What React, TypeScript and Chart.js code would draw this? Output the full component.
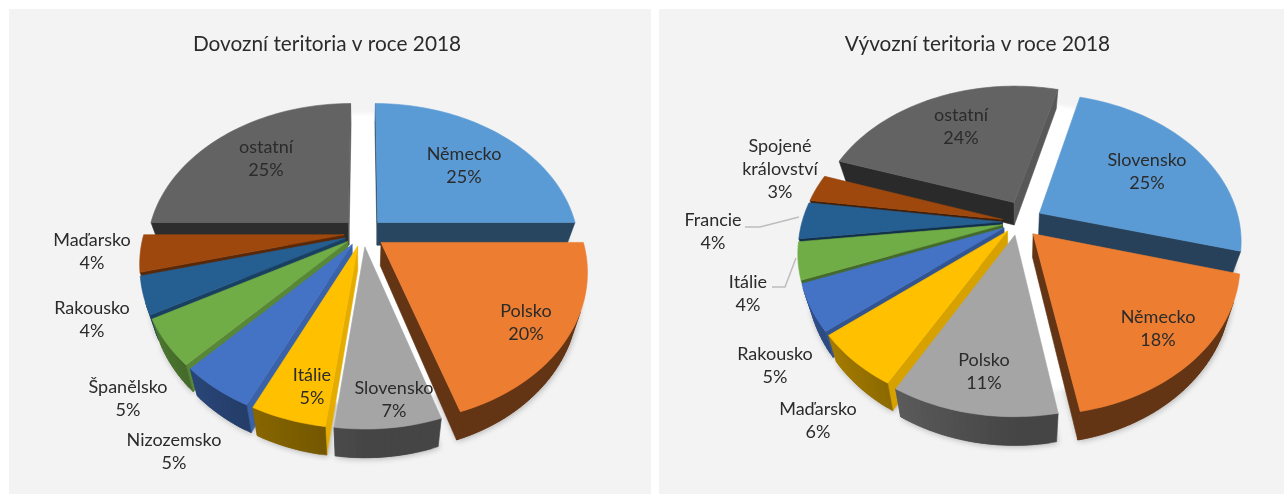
import React, { useEffect, useRef } from "react";
import { Chart, registerables } from "chart.js";

Chart.register(...registerables);

const importCategories = ["Německo", "Polsko", "Slovensko", "Itálie", "Nizozemsko", "Španělsko", "Rakousko", "Maďarsko", "ostatní"];
const importValues = [25, 20, 7, 5, 5, 5, 4, 4, 25];
const exportCategories = ["Slovensko", "Německo", "Polsko", "Maďarsko", "Rakousko", "Itálie", "Francie", "Spojené|království", "ostatní"];
const exportValues = [25, 18, 11, 6, 5, 4, 4, 3, 24];
const palette = ["#5b9bd5", "#ed7d31", "#a5a5a5", "#ffc000", "#4472c4", "#70ad47", "#255e91", "#9e480e", "#636363"];

const FONT = "Lato, sans-serif";
const TEXT = "#2b2b2b";

type Cfg = {
  left: number; width: number; title: string; cats: string[]; vals: number[]; rotation: number;
  cx: number; cy: number; rx: number; ry: number; p: number; depth: number; k: number;
  offsets: number[]; turns: number[]; labels: [number, number][]; leaders: [number, number][][]; padL: number; padR: number;
};

const TOP = 9, H = 485;

const shade = (hex: string, f: number) => {
  const n = parseInt(hex.slice(1), 16);
  return `rgb(${Math.round(((n >> 16) & 255) * f)},${Math.round(((n >> 8) & 255) * f)},${Math.round((n & 255) * f)})`;
};

const rimShade = (deg: number) => {
  const d = ((deg % 360) + 360) % 360;
  if (d >= 180 && d <= 290) return 0.42 + (0.4 * (d - 180)) / 90;
  if (d > 290 || d < 90) return 0.7;
  return 0.42;
};

const pie3d = (cfg: Cfg) => ({
  id: "pie3d",
  beforeDatasetsDraw(chart: any) {
    const ctx: CanvasRenderingContext2D = chart.ctx;
    const meta = chart.getDatasetMeta(0);
    const colors = chart.data.datasets[0].backgroundColor as string[];
    ctx.save();
    ctx.translate(-cfg.left, -TOP);

    const project = (x: number, y: number, low: boolean) => {
      const s = 1 / (1 + cfg.p * y);
      const X = x * s * cfg.rx;
      const Y = -y * s * cfg.ry;
      if (!low) return [cfg.cx + X, cfg.cy + Y];
      return [cfg.cx + X * cfg.k, cfg.cy + Y + cfg.depth * s];
    };

    const tracePoly = (pts: number[][]) => {
      ctx.beginPath();
      pts.forEach((q, i) => (i ? ctx.lineTo(q[0], q[1]) : ctx.moveTo(q[0], q[1])));
      ctx.closePath();
    };

    const fillPoly = (pts: number[][], color: string) => {
      tracePoly(pts);
      ctx.fillStyle = color;
      ctx.strokeStyle = color;
      ctx.lineWidth = 0.6;
      ctx.fill();
      ctx.stroke();
    };

    const slices = meta.data
      .map((arc: any, i: number) => {
        const a0 = arc.startAngle + Math.PI / 2;
        const a1 = arc.endAngle + Math.PI / 2;
        const mid = (a0 + a1) / 2;
        const e = (arc.options.offset || 0) / cfg.rx;
        const dir = mid + (cfg.turns[i] * Math.PI) / 180;
        const ox = e * Math.sin(dir);
        const oy = e * Math.cos(dir);
        const steps = Math.max(4, Math.ceil((a1 - a0) / 0.03));
        const plane: number[][] = [[ox, oy]];
        for (let j = 0; j <= steps; j++) {
          const t = a0 + ((a1 - a0) * j) / steps;
          plane.push([ox + Math.sin(t), oy + Math.cos(t)]);
        }
        return {
          i, a0, a1, mid, steps,
          up: plane.map((q) => project(q[0], q[1], false)),
          lo: plane.map((q) => project(q[0], q[1], true)),
        };
      })
      .sort((a: any, b: any) => Math.cos(b.mid) - Math.cos(a.mid));

    // soft shadow under the slices
    ctx.save();
    ctx.shadowColor = "rgba(0,0,0,0.3)";
    ctx.shadowBlur = 6;
    ctx.shadowOffsetX = 1;
    ctx.shadowOffsetY = 1;
    ctx.fillStyle = "#e8e8e8";
    slices.forEach((sl: any) => {
      tracePoly(sl.lo);
      ctx.fill();
    });
    ctx.restore();

    // pale glow showing through the gaps between the slices
    ctx.save();
    ctx.filter = "blur(2px)";
    ctx.fillStyle = "#ffffff";
    const disc: number[][] = [];
    for (let j = 0; j < 72; j++) {
      const t = (j / 72) * 2 * Math.PI;
      disc.push(project(0.98 * Math.sin(t), 0.98 * Math.cos(t), false));
    }
    tracePoly(disc);
    ctx.fill();
    ctx.restore();

    slices.forEach(({ i, a0, a1, steps, up, lo }: any) => {
      const n = up.length;
      for (let j = 0; j < n; j++) {
        const m = (j + 1) % n;
        const quad = [up[j], up[m], lo[m], lo[j]];
        let area = 0;
        quad.forEach((q, w) => {
          const r = quad[(w + 1) % 4];
          area += q[0] * r[1] - r[0] * q[1];
        });
        if (area >= 0) continue;
        let f: number;
        const radial = j === 0 || m === 0;
        if (radial) {
          const normal = j === 0 ? a0 - Math.PI / 2 : a1 + Math.PI / 2;
          const nx = Math.sin(normal);
          f = nx > 0 ? 0.45 + 0.45 * nx : 0.42;
        } else {
          f = rimShade(((a0 + ((a1 - a0) * (j - 0.5)) / steps) * 180) / Math.PI);
        }
        // rim segments overlap their neighbour so no anti-aliased seams show
        const next = !radial && m + 1 < n ? m + 1 : m;
        fillPoly([up[j], up[m], up[next], lo[next], lo[m], lo[j]], shade(colors[i], f));
      }
      fillPoly(up, colors[i]);
    });

    ctx.strokeStyle = "#bdbdbd";
    ctx.lineWidth = 1.5;
    cfg.leaders.forEach((line) => {
      ctx.beginPath();
      line.forEach((q, i) => (i ? ctx.lineTo(q[0], q[1]) : ctx.moveTo(q[0], q[1])));
      ctx.stroke();
    });

    ctx.fillStyle = TEXT;
    ctx.font = `18px ${FONT}`;
    ctx.textAlign = "center";
    ctx.textBaseline = "middle";
    cfg.cats.forEach((c, i) => {
      const lines = [...c.split("|"), `${cfg.vals[i]}%`];
      lines.forEach((t, j) => ctx.fillText(t, cfg.labels[i][0], cfg.labels[i][1] + j * 23));
    });
    ctx.restore();
    return false;
  },
});

const PieChart = ({ cfg }: { cfg: Cfg }) => {
  const ref = useRef<HTMLCanvasElement>(null);
  useEffect(() => {
    const chart = new Chart(ref.current!, {
      type: "pie",
      data: {
        labels: cfg.cats,
        datasets: [{ data: cfg.vals, backgroundColor: palette, offset: cfg.offsets, borderWidth: 0 }],
      },
      options: {
        animation: false,
        responsive: false,
        events: [],
        rotation: cfg.rotation,
        layout: { padding: { left: cfg.padL, right: cfg.padR } },
        plugins: {
          legend: { display: false },
          tooltip: { enabled: false },
          title: {
            display: true,
            text: cfg.title,
            color: TEXT,
            font: { family: FONT, size: 20.8, weight: "normal" },
            padding: { top: 23, bottom: 10 },
          },
        },
      },
      plugins: [pie3d(cfg)],
    } as any);
    return () => chart.destroy();
  }, []);
  return (
    <canvas
      ref={ref}
      width={cfg.width}
      height={H}
      style={{ position: "fixed", left: cfg.left, top: TOP, background: "#f3f3f3", filter: "blur(0.6px)" }}
    />
  );
};

const leftCfg: Cfg = {
  left: 9, width: 642, title: "Dovozní teritoria v roce 2018", cats: importCategories, vals: importValues, rotation: 0,
  cx: 363, cy: 233, rx: 200, ry: 143.8, p: 0.18, depth: 23, k: 0.96,
  offsets: [21, 22, 19, 19, 19, 19, 19, 19, 21],
  turns: [0, 0, 0, 0, 0, 0, 0, 0, 0],
  labels: [[464, 154], [526, 311], [394, 388], [312, 375], [174, 440], [128, 387], [92, 308], [92, 240], [266, 147]],
  leaders: [], padL: 0, padR: 6,
};

const rightCfg: Cfg = {
  left: 659, width: 625, title: "Vývozní teritoria v roce 2018", cats: exportCategories, vals: exportValues, rotation: 15,
  cx: 1018, cy: 222, rx: 200, ry: 143.8, p: 0.18, depth: 23, k: 0.96,
  offsets: [25, 22, 18, 16, 16, 16, 16, 16, 28],
  turns: [0, 0, 0, 0, 0, 0, 0, 0, 20],
  labels: [[1147, 160], [1158, 317], [984, 360], [818, 409], [775, 354], [748, 282], [713, 220], [780, 146], [961, 115]],
  leaders: [
    [[745, 227], [760, 227], [799, 217]],
    [[772, 287], [785, 287], [796, 258]],
  ],
  padL: 12, padR: 0,
};

export default function App() {
  return (
    <>
      <PieChart cfg={leftCfg} />
      <PieChart cfg={rightCfg} />
    </>
  );
}
